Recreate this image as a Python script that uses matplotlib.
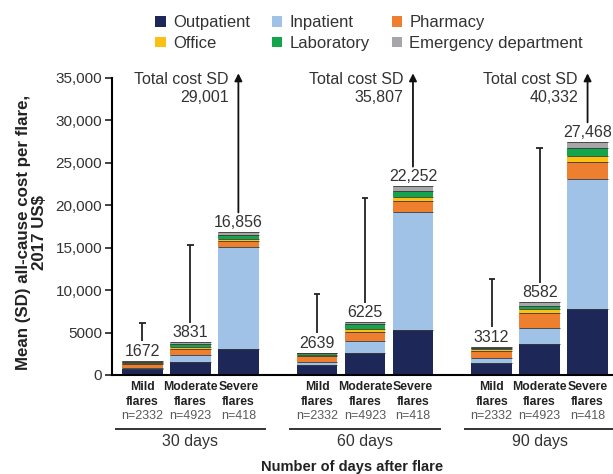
import matplotlib
import matplotlib.pyplot as plt
import numpy as np
from matplotlib.patches import Patch

matplotlib.use('Agg')
plt.rcParams['font.family'] = ['Liberation Sans', 'DejaVu Sans']

# data
groups = ['30 days', '60 days', '90 days']
severities = ['Mild\nflares', 'Moderate\nflares', 'Severe\nflares']
n_labels = ['n=2332', 'n=4923', 'n=418']
categories = ['Outpatient', 'Inpatient', 'Pharmacy', 'Office', 'Laboratory', 'Emergency department']
colors = ['#1d2858', '#a0c2e6', '#ee7f2e', '#fcc012', '#13a54c', '#a7a5a9']

# one row per bar (30d mild, moderate, severe, 60d ..., 90d ...)
outpatient = [720, 1570, 3030, 1150, 2550, 5300, 1450, 3610, 7740]
inpatient = [150, 790, 12010, 400, 1490, 13860, 510, 1890, 15350]
pharmacy = [420, 700, 790, 680, 1060, 1330, 900, 1770, 1960]
office = [120, 270, 250, 150, 350, 510, 200, 470, 750]
laboratory = [170, 320, 420, 160, 500, 670, 170, 420, 900]
emergency = [92, 181, 356, 99, 275, 582, 82, 422, 768]
totals = [1672, 3831, 16856, 2639, 6225, 22252, 3312, 8582, 27468]
sd_values = [4488, 11479, 29001, 6901, 14585, 35807, 7988, 18188, 40332]

YMAX = 35000


def fmt_total(v):
    return f'{v:,}' if v >= 10000 else f'{v}'


fig = plt.figure(figsize=(6.13, 4.74), dpi=100)
ax = fig.add_axes([0.1827, 0.2089, 0.8157, 0.6266])

x_positions = np.array([g * 3.64 + s for g in range(3) for s in range(3)], dtype=float)
bar_width = 0.85
components = [outpatient, inpatient, pharmacy, office, laboratory, emergency]

bottom = np.zeros(len(x_positions))
for values, color, label in zip(components, colors, categories):
    values = np.array(values, dtype=float)
    ax.bar(x_positions, values, bar_width, bottom=bottom, color=color, label=label, linewidth=0)
    bottom = bottom + values
    # thin separators between stacked segments
    ax.hlines(bottom, x_positions - bar_width / 2, x_positions + bar_width / 2, colors='#3a3a3a', linewidth=0.6)

gap = 2300
for i, (x, total, sd) in enumerate(zip(x_positions, totals, sd_values)):
    ax.annotate(fmt_total(total), (x, total), xytext=(0, 1.5), textcoords='offset points',
                ha='center', va='bottom', fontsize=11.5, color='#333333')
    if total + sd <= YMAX:
        ax.vlines(x, total + gap, total + sd, colors='#222222', linewidth=1.3)
        ax.hlines(total + sd, x - 0.065, x + 0.065, colors='#222222', linewidth=1.3)
    else:
        ax.annotate('', xy=(x, YMAX + 550), xytext=(x, total + gap),
                    arrowprops=dict(arrowstyle='-|>', color='#111111', lw=1.3, mutation_scale=11,
                                    shrinkA=0, shrinkB=0),
                    annotation_clip=False)
        ax.text(x - 0.2, YMAX - 1200, f'Total cost SD\n{sd:,}', ha='right', va='center',
                multialignment='right', fontsize=11.5, color='#333333', linespacing=1.25,
                clip_on=False)

# category labels beneath the axis
xt = ax.get_xaxis_transform()
for i, x in enumerate(x_positions):
    ax.text(x, -0.066, severities[i % 3], transform=xt, ha='center', va='center',
            fontsize=8.8, fontweight='bold', color='#222222', linespacing=1.35)
    ax.text(x, -0.137, n_labels[i % 3], transform=xt, ha='center', va='center',
            fontsize=9, color='#5a5a5a')

for g, name in enumerate(groups):
    center = x_positions[g * 3 + 1]
    ax.plot([center - 1.56, center + 1.56], [-0.183, -0.183], transform=xt, color='#333333',
            linewidth=1.4, clip_on=False)
    ax.text(center, -0.224, name, transform=xt, ha='center', va='center', fontsize=11.5,
            color='#333333')

fig.text(0.574, 0.0155, 'Number of days after flare', ha='center', va='center', fontsize=10.5,
         fontweight='bold', color='#222222')
fig.text(0.052, 0.51, 'Mean (SD) all-cause cost per flare,\n2017 US$', rotation=90, ha='center',
         va='center', fontsize=12.2, fontweight='bold', color='#222222', linespacing=1.1)

ax.set_xlim(-0.635, 9.79)
ax.set_ylim(0, YMAX)
ax.set_xticks([])
yticks = np.arange(0, YMAX + 1, 5000)
ax.set_yticks(yticks)
ax.set_yticklabels([fmt_total(int(v)) for v in yticks], fontsize=11, color='#333333')
ax.tick_params(axis='y', length=5, width=1.2, pad=2, color='#222222')
for side in ['top', 'right']:
    ax.spines[side].set_visible(False)
ax.spines['left'].set_linewidth(1.5)
ax.spines['bottom'].set_linewidth(1.5)

handles = [Patch(facecolor=c, edgecolor='none', label=l) for c, l in zip(colors, categories)]
order = [0, 3, 1, 4, 2, 5]
fig.legend([handles[i] for i in order], [categories[i] for i in order], ncol=3,
           loc='upper left', bbox_to_anchor=(0.229, 1.0), frameon=False, fontsize=12,
           handlelength=0.62, handleheight=0.62, handletextpad=0.45, columnspacing=1.3,
           labelspacing=0.35, labelcolor='#333333')

fig.savefig('out.png', dpi=100)
plt.close(fig)
